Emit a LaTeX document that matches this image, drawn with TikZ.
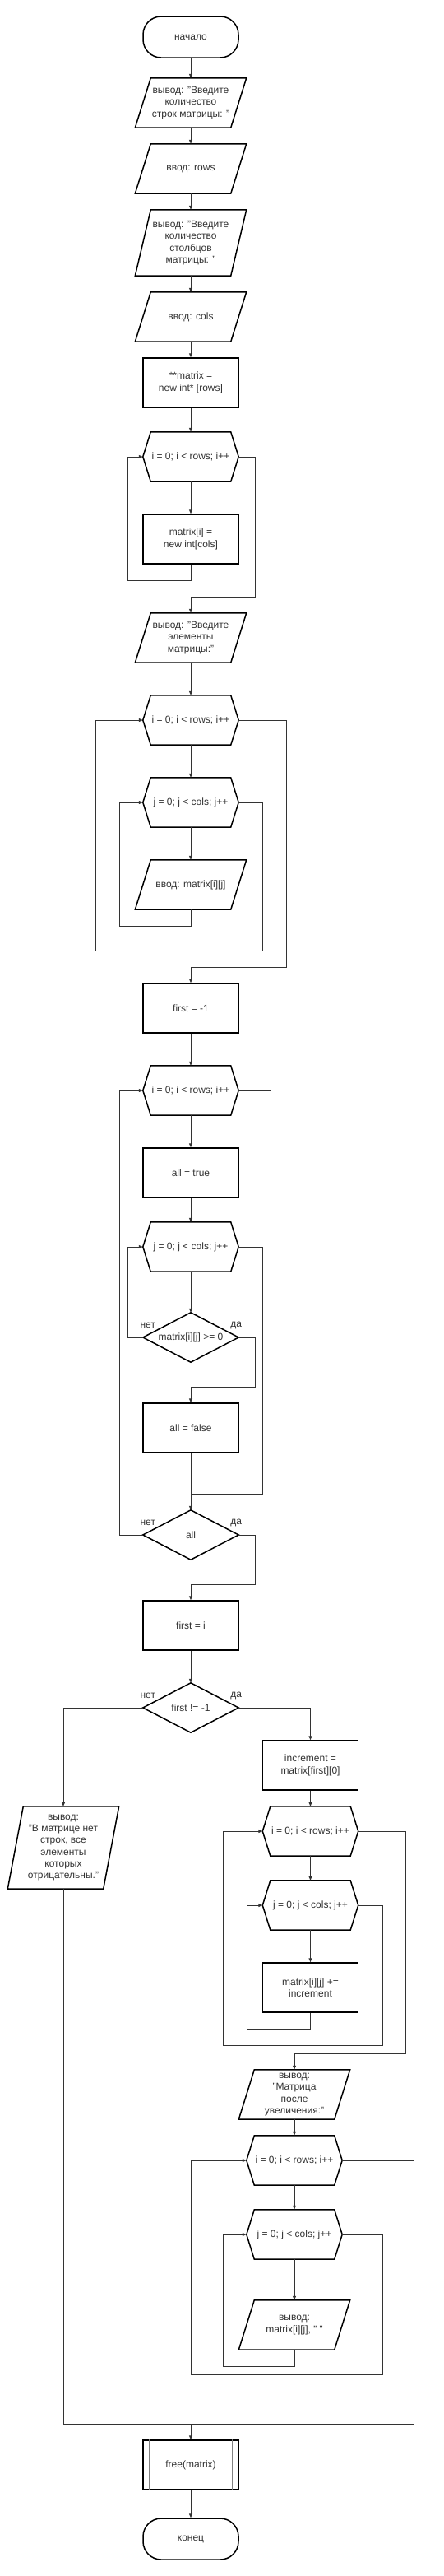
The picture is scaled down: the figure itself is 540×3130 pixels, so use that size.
\documentclass[tikz,border=0pt]{standalone}
\usepackage{fontspec}
\setmainfont{Liberation Sans}
\usetikzlibrary{arrows.meta}
\tikzset{
  blk/.style     = {draw=none, minimum width=116pt, minimum height=60pt, align=center,
                    inner sep=1pt, font=\fontsize{12}{14.3}\selectfont, text=black!80},
  proc/.style    = {blk, draw=black, line width=1.5pt},
  term/.style    = {proc, minimum height=50pt, rounded corners=22pt},
  outline/.style = {draw=black, line width=1.5pt},
  conn/.style    = {draw=black!80, line width=1pt},
  flow/.style    = {conn, -{Triangle[length=5pt, width=4pt]}},
  lbl/.style     = {font=\fontsize{12}{14}\selectfont, text=black!80, inner sep=0pt},
}
\newcommand{\iobox}[4]{% name, centre, height, text
  \node[blk, minimum height=#3] (#1) at (#2) {#4};
  \draw[outline] ([xshift=9.5pt]#1.north west) -- ([xshift=9.5pt]#1.north east)
    -- ([xshift=-9.5pt]#1.south east) -- ([xshift=-9.5pt]#1.south west) -- cycle;
}
\newcommand{\loopbox}[3]{% name, centre, text
  \node[blk] (#1) at (#2) {#3};
  \draw[outline] (#1.west) -- ([xshift=9.5pt]#1.north west) -- ([xshift=-9.5pt]#1.north east)
    -- (#1.east) -- ([xshift=-9.5pt]#1.south east) -- ([xshift=9.5pt]#1.south west) -- cycle;
}
\newcommand{\decbox}[3]{% name, centre, text
  \node[blk] (#1) at (#2) {#3};
  \draw[outline] (#1.north) -- (#1.east) -- (#1.south) -- (#1.west) -- cycle;
}

\begin{document}
\begin{tikzpicture}[x=1pt, y=-1pt]
  \fill[white] (0,0) rectangle (540,3130);
  \useasboundingbox (0,0) rectangle (540,3130);

  % input and allocation
  \node[term] (start) at (232,45) {начало};
  \iobox{outRows}{232,125}{60pt}{вывод: "Введите\\количество\\строк матрицы: "}
  \iobox{inRows}{232,205}{60pt}{ввод: rows}
  \iobox{outCols}{232,295}{80pt}{вывод: "Введите\\количество\\столбцов\\матрицы: "}
  \iobox{inCols}{232,385}{60pt}{ввод: cols}
  \node[proc] (alloc) at (232,465) {**matrix =\\new int* [rows]};
  \loopbox{loopA}{232,555}{i = 0; i < rows; i++}
  \node[proc] (allocRow) at (232,655) {matrix[i] =\\new int[cols]};
  \iobox{outElems}{232,775}{60pt}{вывод: "Введите\\элементы\\матрицы:"}
  \loopbox{loopB}{232,875}{i = 0; i < rows; i++}
  \loopbox{loopBj}{232,975}{j = 0; j < cols; j++}
  \iobox{inElem}{232,1075}{60pt}{ввод: matrix[i][j]}

  % search
  \node[proc] (firstInit) at (232,1225) {first = -1};
  \loopbox{loopC}{232,1325}{i = 0; i < rows; i++}
  \node[proc] (allTrue) at (232,1425) {all = true};
  \loopbox{loopCj}{232,1515}{j = 0; j < cols; j++}
  \decbox{condNeg}{232,1625}{matrix[i][j] >= 0}
  \node[proc] (allFalse) at (232,1735) {all = false};
  \decbox{condAll}{232,1865}{all}
  \node[proc] (firstSet) at (232,1975) {first = i};
  \decbox{condFirst}{232,2075}{first != -1}

  \node[lbl] (noNeg) at ([shift={(6pt,15pt)}]condNeg.west) {нет};
  \node[lbl] (yesNeg) at ([shift={(-3pt,15pt)}]condNeg.east) {да};
  \node[lbl] (noAll) at ([shift={(6pt,15pt)}]condAll.west) {нет};
  \node[lbl] (yesAll) at ([shift={(-3pt,15pt)}]condAll.east) {да};
  \node[lbl] (noFirst) at ([shift={(6pt,15pt)}]condFirst.west) {нет};
  \node[lbl] (yesFirst) at ([shift={(-3pt,15pt)}]condFirst.east) {да};

  % branches
  \iobox{outNone}{77,2245}{100pt}{вывод:\\"В матрице нет\\строк, все\\элементы\\которых\\отрицательны."}
  \node[proc] (incSet) at (377.5,2145) {increment =\\matrix[first][0]};
  \loopbox{loopD}{377.5,2225}{i = 0; i < rows; i++}
  \loopbox{loopDj}{377.5,2315}{j = 0; j < cols; j++}
  \node[proc] (addInc) at (377.5,2415) {matrix[i][j] +=\\increment};
  \iobox{outAfter}{358,2545}{60pt}{вывод:\\"Матрица\\после\\увеличения:"}
  \loopbox{loopE}{358,2625}{i = 0; i < rows; i++}
  \loopbox{loopEj}{358,2715}{j = 0; j < cols; j++}
  \iobox{outElem}{358,2825}{60pt}{вывод:\\matrix[i][j], " "}

  \node[proc] (freeMat) at (232,2995) {free(matrix)};
  \draw[draw=black!50, line width=1.2pt] ([xshift=8pt]freeMat.north west) -- ([xshift=8pt]freeMat.south west);
  \draw[draw=black!50, line width=1.2pt] ([xshift=-8pt]freeMat.north east) -- ([xshift=-8pt]freeMat.south east);
  \node[term] (stop) at (232,3085) {конец};

  \coordinate (joinC) at (232,1815);
  \coordinate (joinD) at (232,2025);
  \coordinate (joinF) at (232,2945);

  % connectors
  \draw[flow] (start) -- (outRows);
  \draw[flow] (outRows) -- (inRows);
  \draw[flow] (inRows) -- (outCols);
  \draw[flow] (outCols) -- (inCols);
  \draw[flow] (inCols) -- (alloc);
  \draw[flow] (alloc) -- (loopA);
  \draw[flow] (loopA) -- (allocRow);
  \draw[flow] (allocRow.south) |- (155,705) |- (loopA.west);
  \draw[flow] (loopA.east) -| (310,725) -| (outElems.north);

  \draw[flow] (outElems) -- (loopB);
  \draw[flow] (loopB) -- (loopBj);
  \draw[flow] (loopBj) -- (inElem);
  \draw[flow] (inElem.south) |- (145,1125) |- (loopBj.west);
  \draw[flow] (loopBj.east) -| (319,1155) -| (116,875) -- (loopB.west);
  \draw[flow] (loopB.east) -| (348,1175) -| (firstInit.north);

  \draw[flow] (firstInit) -- (loopC);
  \draw[flow] (loopC) -- (allTrue);
  \draw[flow] (allTrue) -- (loopCj);
  \draw[flow] (loopCj) -- (condNeg);
  \draw[flow] (condNeg.west) -| (155,1515) -- (loopCj.west);
  \draw[flow] (condNeg.east) -| (310,1685) -| (allFalse.north);
  \draw[conn] (loopCj.east) -| (319,1815) -- (joinC);
  \draw[flow] (allFalse) -- (condAll);
  \draw[flow] (condAll.west) -| (145,1325) -- (loopC.west);
  \draw[flow] (condAll.east) -| (310,1925) -| (firstSet.north);
  \draw[conn] (loopC.east) -| (329,2025) -- (joinD);
  \draw[flow] (firstSet) -- (condFirst);

  \draw[flow] (condFirst.west) -| (outNone.north);
  \draw[flow] (condFirst.east) -| (incSet.north);
  \draw[flow] (incSet) -- (loopD);
  \draw[flow] (loopD) -- (loopDj);
  \draw[flow] (loopDj) -- (addInc);
  \draw[flow] (addInc.south) |- (300,2465) |- (loopDj.west);
  \draw[flow] (loopDj.east) -| (465,2485) -| (271,2225) -- (loopD.west);
  \draw[flow] (loopD.east) -| (493,2495) -| (outAfter.north);
  \draw[flow] (outAfter) -- (loopE);
  \draw[flow] (loopE) -- (loopEj);
  \draw[flow] (loopEj) -- (outElem);
  \draw[flow] (outElem.south) |- (271,2875) |- (loopEj.west);
  \draw[flow] (loopEj.east) -| (465,2885) -| (232,2625) -- (loopE.west);
  \draw[conn] (outNone.south) |- (503,2945) |- (loopE.east);
  \draw[flow] (joinF) -- (freeMat);
  \draw[flow] (freeMat) -- (stop);
\end{tikzpicture}
\end{document}
